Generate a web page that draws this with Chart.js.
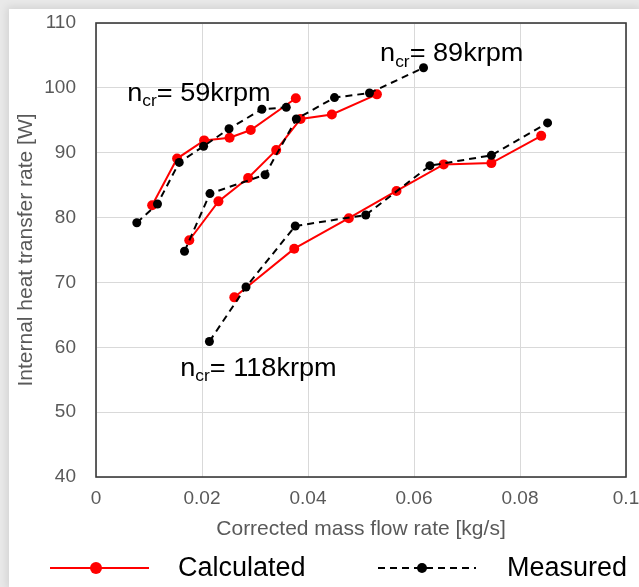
<!DOCTYPE html>
<html>
<head>
<meta charset="utf-8">
<script src="https://cdn.jsdelivr.net/npm/chart.js@4/dist/chart.umd.min.js"></script>
<style>
    html, body { margin: 0; padding: 0; width: 639px; height: 587px; overflow: hidden; background: #e9e9e9; }
    #sheet { position: absolute; left: 9px; top: 9px; width: 630px; height: 578px; background: #fff; box-shadow: 0 0 8px 2px rgba(0,0,0,0.10); }
    #chart { position: absolute; left: 0; top: 0; }
</style>
</head>
<body>
<div id="sheet"></div>
<canvas id="chart" width="639" height="587"></canvas>
<script>
// values
const calc59X = [0.0106, 0.0153, 0.0204, 0.0252, 0.0292, 0.0377];
const calc59Y = [81.9, 89.1, 91.9, 92.3, 93.5, 98.4];
const meas59X = [0.0077, 0.0116, 0.0157, 0.0203, 0.0251, 0.0313, 0.0359];
const meas59Y = [79.2, 82.1, 88.5, 91.0, 93.7, 96.7, 97.0];

const calc89X = [0.0176, 0.0231, 0.0287, 0.0340, 0.0386, 0.0445, 0.0530];
const calc89Y = [76.5, 82.5, 86.1, 90.4, 95.2, 95.9, 99.0];
const meas89X = [0.0167, 0.0215, 0.0319, 0.0378, 0.0450, 0.0516, 0.0618];
const meas89Y = [74.8, 83.7, 86.6, 95.2, 98.5, 99.2, 103.1];

const calc118X = [0.0261, 0.0374, 0.0477, 0.0567, 0.0656, 0.0746, 0.0840];
const calc118Y = [67.7, 75.2, 79.9, 84.1, 88.2, 88.4, 92.6];
const meas118X = [0.0214, 0.0283, 0.0376, 0.0509, 0.0630, 0.0746, 0.0852];
const meas118Y = [60.9, 69.3, 78.7, 80.4, 88.0, 89.6, 94.6];

const xTicks = [0, 0.02, 0.04, 0.06, 0.08, 0.1];
const xTickLabels = ['0', '0.02', '0.04', '0.06', '0.08', '0.1'];
const yTicks = [40, 50, 60, 70, 80, 90, 100, 110];

// speed labels: text + anchor in data units (left edge, baseline)
const speedLabels = ['59krpm', '89krpm', '118krpm'];
const speedLabelX = [0.0059, 0.0536, 0.0159];
const speedLabelY = [98.0, 104.1, 55.6];

const FONT = '"Liberation Sans", Arial, sans-serif';
const RED = '#ff0000';

function pts(xs, ys) {
    return xs.map(function (x, i) { return { x: x, y: ys[i] }; });
}

function calcSet(xs, ys) {
    return {
        data: pts(xs, ys), showLine: true, order: 2,
        borderColor: RED, backgroundColor: RED, borderWidth: 2,
        pointRadius: 5, pointBorderWidth: 0, tension: 0
    };
}
function measSet(xs, ys) {
    return {
        data: pts(xs, ys), showLine: true, order: 1,
        borderColor: '#000', backgroundColor: '#000', borderWidth: 2, borderDash: [7, 5],
        pointRadius: 4.5, pointBorderWidth: 0, tension: 0
    };
}

// frame around plot area + speed labels + bottom legend
const decorPlugin = {
    id: 'decor',
    beforeDatasetsDraw(chart) {
        const a = chart.chartArea, ctx = chart.ctx;
        ctx.save();
        ctx.strokeStyle = '#3a3a3a';
        ctx.lineWidth = 1.6;
        ctx.strokeRect(a.left, a.top, a.right - a.left, a.bottom - a.top);
        ctx.restore();
    },
    afterDraw(chart) {
        const ctx = chart.ctx, xs = chart.scales.x, ys = chart.scales.y;
        ctx.save();
        ctx.fillStyle = '#000';
        ctx.textBaseline = 'alphabetic';
        ctx.textAlign = 'left';
        const F = 25, SX = 1.085; // labels in the figure are a bit wider than plain Arial
        speedLabels.forEach(function (txt, i) {
            const x0 = xs.getPixelForValue(speedLabelX[i]);
            const py = ys.getPixelForValue(speedLabelY[i]);
            ctx.save();
            ctx.translate(x0, py);
            ctx.scale(SX, 1);
            let px = 0;
            ctx.font = F + 'px ' + FONT;
            ctx.fillText('n', px, 0);
            px += ctx.measureText('n').width;
            ctx.font = Math.round(F * 0.62) + 'px ' + FONT;
            ctx.fillText('cr', px, F * 0.22);
            px += ctx.measureText('cr').width;
            ctx.font = F + 'px ' + FONT;
            ctx.fillText('= ' + txt, px, 0);
            ctx.restore();
        });

        // legend
        const ly = 568;
        ctx.lineWidth = 2;
        ctx.strokeStyle = RED;
        ctx.beginPath(); ctx.moveTo(50, ly); ctx.lineTo(149, ly); ctx.stroke();
        ctx.fillStyle = RED;
        ctx.beginPath(); ctx.arc(96, ly, 6, 0, Math.PI * 2); ctx.fill();

        ctx.strokeStyle = '#000';
        ctx.setLineDash([7, 5]);
        ctx.beginPath(); ctx.moveTo(378, ly); ctx.lineTo(476, ly); ctx.stroke();
        ctx.setLineDash([]);
        ctx.fillStyle = '#000';
        ctx.beginPath(); ctx.arc(422, ly, 5, 0, Math.PI * 2); ctx.fill();

        ctx.font = '27px ' + FONT;
        ctx.textBaseline = 'middle';
        ctx.fillText('Calculated', 178, ly + 1);
        ctx.fillText('Measured', 507, ly + 1);
        ctx.restore();
    }
};

new Chart(document.getElementById('chart'), {
    type: 'scatter',
    data: {
        datasets: [
            calcSet(calc59X, calc59Y), calcSet(calc89X, calc89Y), calcSet(calc118X, calc118Y),
            measSet(meas59X, meas59Y), measSet(meas89X, meas89Y), measSet(meas118X, meas118Y)
        ]
    },
    options: {
        responsive: false,
        animation: false,
        layout: { autoPadding: false, padding: { left: 8, right: 13, top: 23, bottom: 0 } },
        plugins: { legend: { display: false }, tooltip: { enabled: false } },
        scales: {
            x: {
                type: 'linear', min: 0, max: 0.1,
                afterBuildTicks(scale) { scale.ticks = xTicks.map(function (v) { return { value: v }; }); },
                afterFit(scale) { scale.height = 110; scale.paddingLeft = 0; scale.paddingRight = 0; },
                grid: { color: '#d9d9d9', lineWidth: 1, drawTicks: false },
                border: { display: false },
                ticks: {
                    padding: 10, color: '#595959', maxRotation: 0, autoSkip: false,
                    font: { family: FONT, size: 19 },
                    callback: function (v) { const i = xTicks.indexOf(v); return i >= 0 ? xTickLabels[i] : ''; }
                },
                title: {
                    display: true, text: 'Corrected mass flow rate [kg/s]', color: '#595959',
                    font: { family: FONT, size: 21 }, padding: { top: 0, bottom: 45 }
                }
            },
            y: {
                type: 'linear', min: 40, max: 110,
                afterBuildTicks(scale) { scale.ticks = yTicks.map(function (v) { return { value: v }; }); },
                afterFit(scale) { scale.width = 88; scale.paddingTop = 0; scale.paddingBottom = 0; },
                grid: { color: '#d9d9d9', lineWidth: 1, drawTicks: false },
                border: { display: false },
                ticks: { padding: 20, color: '#595959', font: { family: FONT, size: 19 } },
                title: {
                    display: true, text: 'Internal heat transfer rate [W]', color: '#595959',
                    font: { family: FONT, size: 21 }, padding: { top: 6, bottom: 0 }
                }
            }
        }
    },
    plugins: [decorPlugin]
});
</script>
</body>
</html>
